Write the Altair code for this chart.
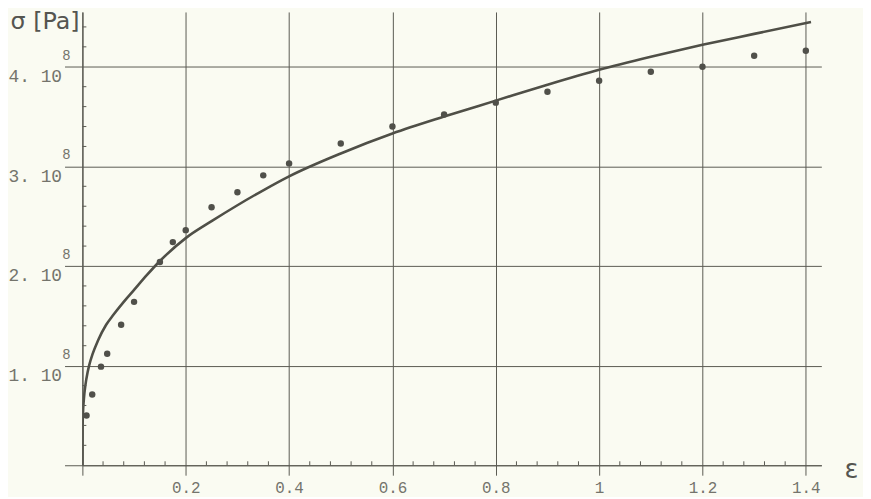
import altair as alt
import pandas as pd

# strain (epsilon) and stress sigma (in units of 1e8 Pa)
curve_eps = [0, 0.0003, 0.001, 0.003, 0.006, 0.01, 0.013, 0.02, 0.03, 0.046, 0.06, 0.08, 0.1, 0.125,
             0.15, 0.2, 0.25, 0.3, 0.35, 0.4, 0.5, 0.6, 0.7, 0.8, 0.9, 1.0, 1.1, 1.2, 1.3, 1.41]
curve_sigma = [0, 0.36, 0.5, 0.67, 0.81, 0.93, 1.0, 1.12, 1.25, 1.41, 1.51, 1.64, 1.76, 1.91,
               2.05, 2.28, 2.45, 2.61, 2.76, 2.90, 3.13, 3.33, 3.50, 3.66, 3.82, 3.97, 4.10, 4.22, 4.33, 4.45]

pts_eps = [0.008, 0.019, 0.036, 0.048, 0.075, 0.1, 0.15, 0.175, 0.2, 0.25, 0.3, 0.35, 0.4,
           0.5, 0.6, 0.7, 0.8, 0.9, 1.0, 1.1, 1.2, 1.3, 1.4]
pts_sigma = [0.5, 0.71, 0.99, 1.12, 1.41, 1.64, 2.04, 2.24, 2.36, 2.59, 2.74, 2.91, 3.03,
             3.23, 3.40, 3.52, 3.64, 3.75, 3.86, 3.95, 4.0, 4.11, 4.16]

x_ticks = [0, 0.2, 0.4, 0.6, 0.8, 1.0, 1.2, 1.4]
y_ticks = [0, 1, 2, 3, 4]
y_exp_ticks = [1, 2, 3, 4]
minor_x = [round(i * 0.04, 2) for i in range(1, 36) if i % 5]
minor_y = [round(i * 0.2, 2) for i in range(1, 23) if i % 5]

W, H = 745, 457
INK = "#5a5a52"
TXT = "#74746c"

curve_df = pd.DataFrame({"eps": curve_eps, "sigma": curve_sigma})
pts_df = pd.DataFrame({"eps": pts_eps, "sigma": pts_sigma})
exp_df = pd.DataFrame({"v": y_exp_ticks})
mx_df = pd.DataFrame({"v": minor_x})
my_df = pd.DataFrame({"v": minor_y})

xs = alt.Scale(domain=[0, 1.43], nice=False, zero=False)
ys = alt.Scale(domain=[0, 4.55], nice=False, zero=False)

xaxis = alt.Axis(values=x_ticks, grid=True, gridColor=INK, gridOpacity=1, gridWidth=1,
                 tickSize=10, tickColor=INK, domainColor=INK, domainWidth=1.2,
                 labelExpr="datum.value == 0 ? '' : format(datum.value, '~g')",
                 labelFont="Liberation Mono", labelFontSize=16, labelColor=TXT,
                 labelPadding=4, title="ε", titleFont="DejaVu Sans", titleFontSize=26,
                 titleFontWeight="normal", titleColor="#555550", titleX=775, titleY=4,
                 titleAlign="center", titleBaseline="middle")
yaxis = alt.Axis(values=y_ticks, grid=True, gridColor=INK, gridOpacity=1, gridWidth=1,
                 tickSize=18, tickColor=INK, domainColor=INK, domainWidth=1.2,
                 labelExpr="datum.value == 0 ? '' : datum.value + '. 10'",
                 labelFont="Liberation Mono", labelFontSize=18, labelColor=TXT,
                 labelPadding=3, labelOffset=10,
                 title="σ [Pa]", titleFont="DejaVu Sans", titleFontSize=24,
                 titleFontWeight="normal", titleColor="#555550", titleAngle=0,
                 titleX=-73, titleY=10, titleAlign="left", titleBaseline="middle")

base = alt.Chart(curve_df)

line = base.mark_line(color="#4f4f47", strokeWidth=2.6, clip=True,
                      interpolate="monotone").encode(
    x=alt.X("eps:Q", scale=xs, axis=xaxis),
    y=alt.Y("sigma:Q", scale=ys, axis=yaxis),
)

points = alt.Chart(pts_df).mark_circle(color="#50504a", opacity=1, size=42).encode(
    x=alt.X("eps:Q", scale=xs),
    y=alt.Y("sigma:Q", scale=ys),
)

exps = alt.Chart(exp_df).mark_text(font="Liberation Mono", fontSize=14, color=TXT,
                                   align="right", baseline="middle", dy=-11).encode(
    y=alt.Y("v:Q", scale=ys),
    x=alt.value(-12),
    text=alt.value("8"),
)

mxt = alt.Chart(mx_df).mark_rule(color=INK, strokeWidth=1).encode(
    x=alt.X("v:Q", scale=xs),
    y=alt.value(H),
    y2=alt.value(H - 4),
)
myt = alt.Chart(my_df).mark_rule(color=INK, strokeWidth=1).encode(
    y=alt.Y("v:Q", scale=ys),
    x=alt.value(0),
    x2=alt.value(4),
)

chart = alt.layer(line, mxt, myt, points, exps).properties(
    width=W, height=H,
    autosize=alt.AutoSizeParams(type="none"),
    padding={"left": 75, "top": 2, "right": 42, "bottom": 30},
    background="#fafbf2",
).configure_view(stroke=None)

chart.save("out.html", embed_options={"renderer": "svg", "actions": False})
